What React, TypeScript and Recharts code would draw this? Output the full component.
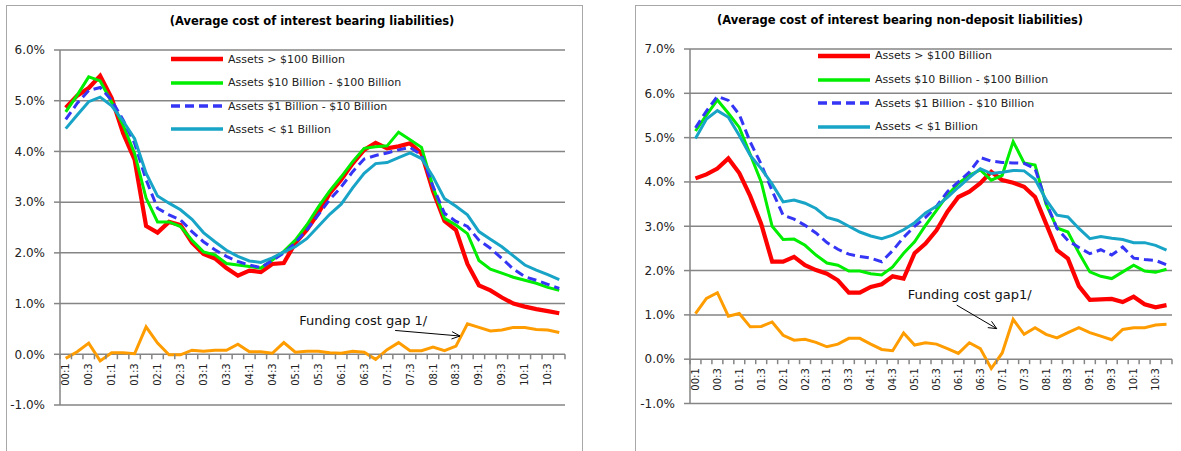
import React from 'react'
import { LineChart, Line, XAxis, YAxis, CartesianGrid, Legend, ReferenceLine } from 'recharts'

// quarters 2000Q1 .. 2010Q4, labelled yy:q
const quarters = [
  '00:1', '00:2', '00:3', '00:4', '01:1', '01:2', '01:3', '01:4', '02:1', '02:2', '02:3', '02:4',
  '03:1', '03:2', '03:3', '03:4', '04:1', '04:2', '04:3', '04:4', '05:1', '05:2', '05:3', '05:4',
  '06:1', '06:2', '06:3', '06:4', '07:1', '07:2', '07:3', '07:4', '08:1', '08:2', '08:3', '08:4',
  '09:1', '09:2', '09:3', '09:4', '10:1', '10:2', '10:3', '10:4',
]

// left panel: average cost of interest bearing liabilities (%)
const costLarge = [4.86, 5.10, 5.25, 5.49, 5.05, 4.36, 3.84, 2.53, 2.40, 2.61, 2.55, 2.20, 1.98, 1.89, 1.70, 1.55, 1.65, 1.62, 1.78, 1.80, 2.19, 2.45, 2.78, 3.17, 3.44, 3.76, 4.03, 4.17, 4.06, 4.10, 4.16, 3.96, 3.22, 2.63, 2.45, 1.78, 1.36, 1.26, 1.12, 1.00, 0.94, 0.89, 0.85, 0.81]
const costMid = [4.78, 5.11, 5.47, 5.39, 4.97, 4.52, 3.96, 3.08, 2.61, 2.61, 2.52, 2.25, 2.02, 1.96, 1.79, 1.76, 1.73, 1.70, 1.86, 2.03, 2.25, 2.55, 2.90, 3.22, 3.50, 3.80, 4.06, 4.09, 4.11, 4.38, 4.23, 4.08, 3.30, 2.68, 2.55, 2.38, 1.85, 1.68, 1.60, 1.52, 1.46, 1.40, 1.32, 1.26]
const costSmall = [4.63, 4.95, 5.20, 5.26, 5.01, 4.62, 4.16, 3.44, 2.88, 2.75, 2.65, 2.42, 2.22, 2.06, 1.93, 1.83, 1.76, 1.71, 1.85, 2.00, 2.20, 2.45, 2.75, 3.05, 3.30, 3.60, 3.85, 3.92, 3.97, 4.03, 4.08, 3.93, 3.31, 2.78, 2.62, 2.52, 2.25, 2.09, 1.89, 1.68, 1.53, 1.46, 1.38, 1.30]
const costTiny = [4.45, 4.72, 4.98, 5.07, 4.90, 4.60, 4.25, 3.57, 3.12, 2.98, 2.85, 2.66, 2.40, 2.22, 2.05, 1.93, 1.84, 1.81, 1.90, 2.02, 2.12, 2.28, 2.52, 2.76, 2.96, 3.28, 3.57, 3.76, 3.78, 3.88, 3.97, 3.86, 3.50, 3.07, 2.92, 2.75, 2.42, 2.27, 2.12, 1.94, 1.76, 1.66, 1.57, 1.47]
const costGap = [-0.08, 0.05, 0.22, -0.13, 0.03, 0.03, 0.01, 0.54, 0.22, -0.01, -0.01, 0.08, 0.06, 0.08, 0.08, 0.20, 0.05, 0.05, 0.02, 0.23, 0.04, 0.06, 0.06, 0.03, 0.02, 0.06, 0.04, -0.10, 0.09, 0.23, 0.07, 0.07, 0.14, 0.07, 0.16, 0.60, 0.53, 0.46, 0.48, 0.53, 0.53, 0.49, 0.48, 0.43]
const costTicks = [-1, 0, 1, 2, 3, 4, 5, 6]

// right panel: average cost of interest bearing non-deposit liabilities (%)
const ndLarge = [4.08, 4.17, 4.30, 4.53, 4.20, 3.68, 3.05, 2.20, 2.20, 2.31, 2.12, 2.01, 1.93, 1.78, 1.50, 1.50, 1.63, 1.69, 1.87, 1.82, 2.39, 2.61, 2.91, 3.33, 3.66, 3.78, 3.97, 4.23, 4.04, 3.98, 3.89, 3.66, 3.06, 2.46, 2.27, 1.65, 1.34, 1.35, 1.36, 1.29, 1.41, 1.24, 1.17, 1.22]
const ndMid = [5.15, 5.51, 5.85, 5.55, 5.23, 4.62, 4.00, 3.00, 2.70, 2.71, 2.57, 2.35, 2.17, 2.12, 1.99, 1.99, 1.93, 1.90, 2.08, 2.39, 2.65, 3.02, 3.36, 3.70, 3.97, 4.15, 4.27, 4.04, 4.15, 4.91, 4.43, 4.38, 3.50, 2.96, 2.87, 2.40, 1.97, 1.87, 1.82, 1.97, 2.12, 1.99, 1.96, 2.03]
const ndSmall = [5.22, 5.60, 5.93, 5.84, 5.52, 4.90, 4.40, 3.80, 3.25, 3.16, 3.02, 2.85, 2.63, 2.48, 2.37, 2.32, 2.28, 2.20, 2.45, 2.75, 3.00, 3.20, 3.45, 3.78, 4.00, 4.22, 4.55, 4.47, 4.44, 4.43, 4.42, 4.30, 3.55, 2.95, 2.68, 2.52, 2.38, 2.47, 2.35, 2.53, 2.28, 2.25, 2.23, 2.13]
const ndTiny = [4.98, 5.42, 5.61, 5.46, 5.05, 4.60, 4.30, 3.95, 3.55, 3.59, 3.52, 3.40, 3.20, 3.13, 3.00, 2.87, 2.78, 2.72, 2.80, 2.92, 3.08, 3.30, 3.45, 3.65, 3.88, 4.10, 4.30, 4.19, 4.22, 4.26, 4.25, 4.06, 3.60, 3.25, 3.21, 2.95, 2.72, 2.77, 2.73, 2.70, 2.63, 2.63, 2.57, 2.46]
const ndGap = [1.03, 1.37, 1.50, 0.97, 1.03, 0.73, 0.74, 0.84, 0.54, 0.43, 0.45, 0.38, 0.28, 0.34, 0.47, 0.47, 0.34, 0.22, 0.19, 0.59, 0.32, 0.37, 0.34, 0.24, 0.13, 0.37, 0.24, -0.21, 0.14, 0.90, 0.56, 0.71, 0.56, 0.48, 0.60, 0.71, 0.60, 0.52, 0.44, 0.67, 0.71, 0.71, 0.77, 0.79]
const ndTicks = [-1, 0, 1, 2, 3, 4, 5, 6, 7]

const seriesStyle = [
  { key: 'large', name: 'Assets > $100 Billion', color: '#FF0000', width: 4.2 },
  { key: 'mid', name: 'Assets $10 Billion - $100 Billion', color: '#00EE00', width: 3 },
  { key: 'small', name: 'Assets $1 Billion - $10 Billion', color: '#3535F5', width: 3, dash: '9 5' },
  { key: 'tiny', name: 'Assets < $1 Billion', color: '#18A4C6', width: 3 },
]
const GAP_COLOR = '#FF9C00'
const GRID = '#858585'
const CH = 451
const YW = 55

function makeRows(large: number[], mid: number[], small: number[], tiny: number[], gap: number[]) {
  return quarters.map((q, i) => ({ idx: i, q, large: large[i], mid: mid[i], small: small[i], tiny: tiny[i], gap: gap[i] }))
}

// x axis sits on the 0% line, ticks between categories, label every 2nd quarter
const QuarterTick = ({ x, y, payload, plotW, plotH, yMin, yMax }: any) => {
  const step = plotW / quarters.length
  const y0 = y - plotH * (0 - yMin) / (yMax - yMin)
  const i = payload.value
  const edges = i === quarters.length - 1 ? [x - step / 2, x + step / 2] : [x - step / 2]
  return (
    <g>
      {edges.map((ex, k) => <line key={k} x1={ex} x2={ex} y1={y0} y2={y0 + 5} stroke={GRID} strokeWidth={1.5} />)}
      {i % 2 === 0 && (
        <text transform={`translate(${x},${y0 + 9}) rotate(-90)`} textAnchor="end" dy="0.35em" fontSize={10} fill="#222">
          {quarters[i]}
        </text>
      )}
    </g>
  )
}

const ArrowNote = ({ x1, y1, x2, y2, text, dx, dy }: any) => {
  const a = Math.atan2(y2 - y1, x2 - x1), h = 9, s = 0.42
  const p1 = `${x2 - h * Math.cos(a - s)},${y2 - h * Math.sin(a - s)}`
  const p2 = `${x2 - h * Math.cos(a + s)},${y2 - h * Math.sin(a + s)}`
  return (
    <g>
      <line x1={x1} y1={y1} x2={x2} y2={y2} stroke="#000" strokeWidth={1} />
      <polyline points={`${p1} ${x2},${y2} ${p2}`} fill="none" stroke="#000" strokeWidth={1} />
      <text x={x1 + dx} y={y1 + dy} fontSize={13} fill="#111" dominantBaseline="central">{text}</text>
    </g>
  )
}

// legend keeps the series order, the gap line is left out
const LegendBlock = ({ payload, rowH }: any) => {
  const keys = (payload || []).map((p: any) => p.dataKey)
  return (
    <div>
      {seriesStyle.filter((s) => keys.includes(s.key)).map((s) => (
        <div key={s.key} style={{ height: rowH, display: 'flex', alignItems: 'center' }}>
          <svg width={57} height={8} style={{ flex: 'none' }}>
            <line x1={0} y1={4} x2={52} y2={4} stroke={s.color} strokeWidth={s.width + 0.5} strokeDasharray={s.dash} />
          </svg>
          <span style={{ fontSize: 11, color: '#222', whiteSpace: 'nowrap' }}>{s.name}</span>
        </div>
      ))}
    </div>
  )
}

type PanelProps = {
  title: string; rows: any[]; ticks: number[]; left: number; width: number
  margin: { top: number; right: number; bottom: number; left: number }
  titleCenter: number; titleTop: number
  legendPos: { left: number; top: number }; rowH: number
  note: { from: number[]; to: number[]; text: string; dx: number; dy: number }
}

function Panel({ title, rows, ticks, left, width, margin, titleCenter, titleTop, legendPos, rowH, note }: PanelProps) {
  const yMin = ticks[0], yMax = ticks[ticks.length - 1]
  const plotW = width - margin.left - YW - margin.right
  const plotH = CH - margin.top - margin.bottom - 1
  return (
    <>
      <div style={{ position: 'absolute', left: titleCenter - 300, top: titleTop, width: 600, textAlign: 'center', fontSize: 11.5, fontWeight: 'bold', lineHeight: '15px', color: '#000' }}>
        {title}
      </div>
      <div style={{ position: 'absolute', left, top: 0 }}>
        <LineChart width={width} height={CH} data={rows} margin={margin}>
          <CartesianGrid vertical={false} stroke={GRID} strokeWidth={1.5} />
          <XAxis dataKey="idx" type="number" domain={[-0.5, quarters.length - 0.5]} ticks={rows.map((r) => r.idx)} interval={0}
            height={1} axisLine={false} tickLine={false} tickSize={0} tickMargin={0}
            tick={(p: any) => <QuarterTick {...p} plotW={plotW} plotH={plotH} yMin={yMin} yMax={yMax} />} />
          <YAxis width={YW} domain={[yMin, yMax]} ticks={ticks} interval={0} tickFormatter={(v: number) => `${v.toFixed(1)}%`}
            tick={{ fontSize: 12, fill: '#222' }} axisLine={{ stroke: GRID, strokeWidth: 1.5 }} tickLine={{ stroke: GRID, strokeWidth: 1.5 }}
            tickSize={6} tickMargin={9} />
          <Legend layout="vertical" align="center" verticalAlign="middle"
            wrapperStyle={{ left: legendPos.left, top: legendPos.top, width: 'auto' }}
            content={(p: any) => <LegendBlock payload={p.payload} rowH={rowH} />} />
          {seriesStyle.map((s) => (
            <Line key={s.key} type="linear" dataKey={s.key} name={s.name} stroke={s.color} strokeWidth={s.width}
              strokeDasharray={s.dash} dot={false} activeDot={false} isAnimationActive={false} />
          ))}
          <Line type="linear" dataKey="gap" name="Funding cost gap" stroke={GAP_COLOR} strokeWidth={3} dot={false}
            activeDot={false} legendType="none" isAnimationActive={false} />
          <ReferenceLine segment={[{ x: note.from[0], y: note.from[1] }, { x: note.to[0], y: note.to[1] }]}
            shape={(p: any) => <ArrowNote {...p} text={note.text} dx={note.dx} dy={note.dy} />} />
        </LineChart>
      </div>
    </>
  )
}

export default function App() {
  const costRows = makeRows(costLarge, costMid, costSmall, costTiny, costGap)
  const ndRows = makeRows(ndLarge, ndMid, ndSmall, ndTiny, ndGap)
  return (
    <div style={{ position: 'absolute', left: 0, top: 0, width: 1181, height: 451, overflow: 'hidden', background: '#fff', fontFamily: '"DejaVu Sans", Verdana, sans-serif' }}>
      <div style={{ position: 'absolute', left: 6, top: 5, width: 575, height: 470, border: '1.5px solid #A8A8A8' }} />
      <div style={{ position: 'absolute', left: 635, top: 5, width: 600, height: 470, border: '1.5px solid #A8A8A8' }} />
      <Panel title="(Average cost of interest bearing liabilities)" rows={costRows} ticks={costTicks}
        left={0} width={590} margin={{ top: 50, right: 25, bottom: 45, left: 5 }}
        titleCenter={312} titleTop={14} legendPos={{ left: 171, top: 47.6 }} rowH={23.4}
        note={{ from: [28.7, 0.47], to: [34.35, 0.36], text: 'Funding cost gap 1/', dx: -96, dy: -10 }} />
      <Panel title="(Average cost of interest bearing non-deposit liabilities)" rows={ndRows} ticks={ndTicks}
        left={600} width={581} margin={{ top: 49, right: 9, bottom: 46.5, left: 35 }}
        titleCenter={900} titleTop={12.5} legendPos={{ left: 218, top: 44 }} rowH={23.7}
        note={{ from: [23.85, 1.22], to: [27.5, 0.69], text: 'Funding cost gap1/', dx: -49, dy: -11 }} />
    </div>
  )
}
